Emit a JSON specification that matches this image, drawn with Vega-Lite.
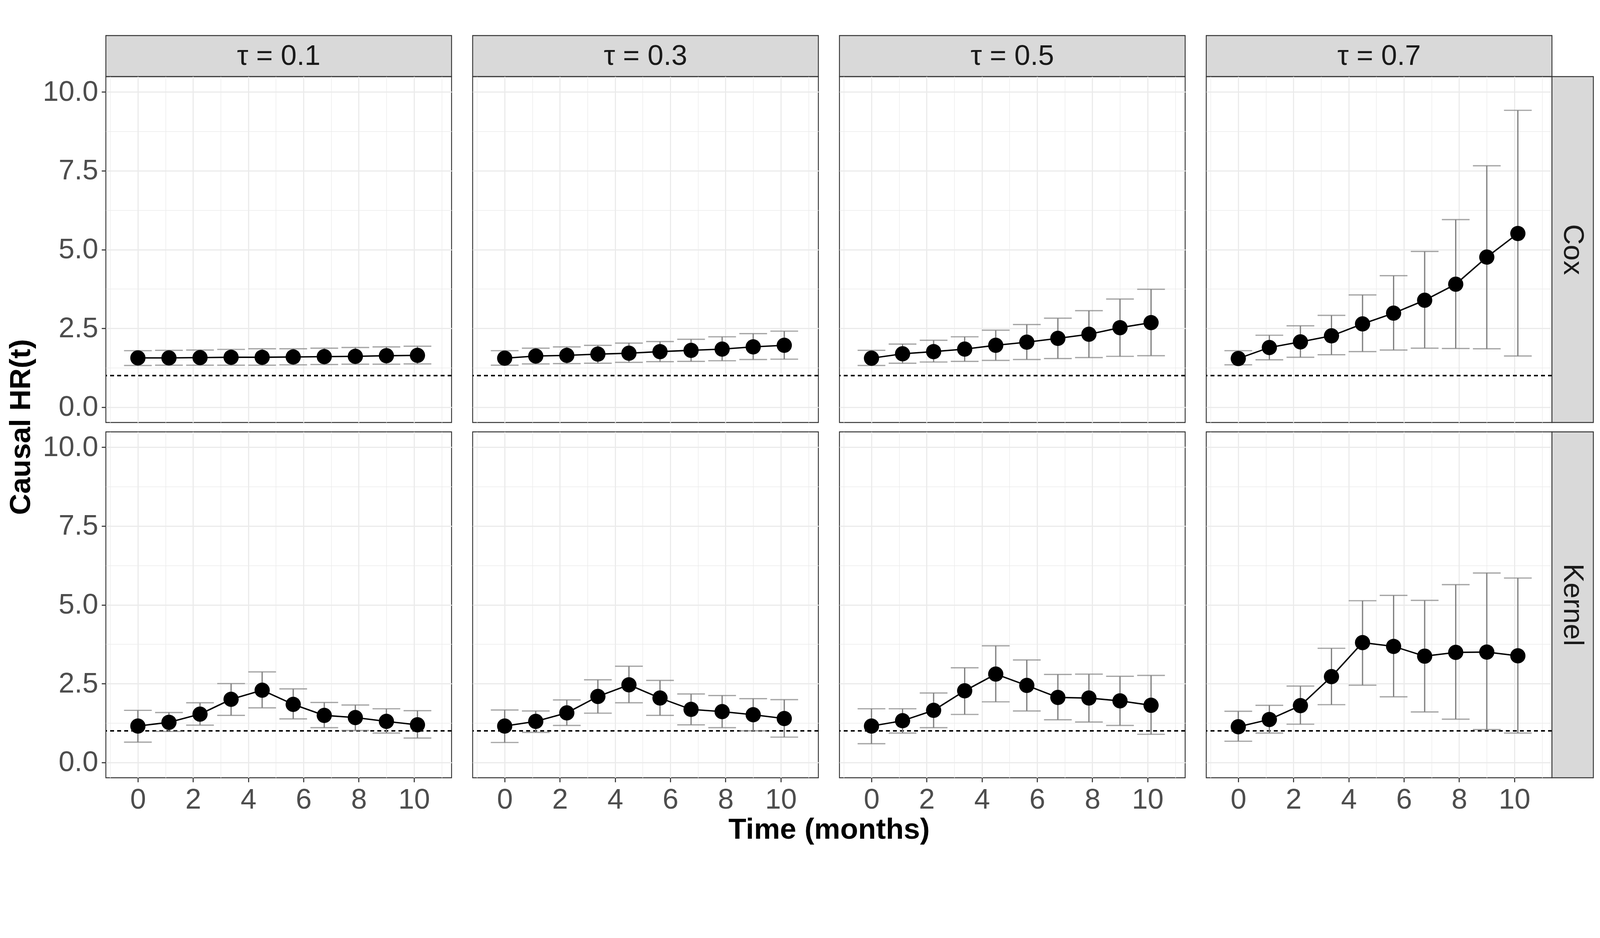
{
  "$schema": "https://vega.github.io/schema/vega-lite/v6.json",
  "description": "Causal HR(t) over time by tau and estimation method",
  "background": "white",
  "padding": {"left": 14, "top": 89, "right": 10, "bottom": 10},
  "datasets": {
    "hr": [
      {"method": "Cox", "tau": 0.1, "t": 0, "hr": 1.56, "lo": 1.32, "hi": 1.79},
      {"method": "Cox", "tau": 0.1, "t": 1.125, "hr": 1.56, "lo": 1.33, "hi": 1.8},
      {"method": "Cox", "tau": 0.1, "t": 2.25, "hr": 1.57, "lo": 1.33, "hi": 1.81},
      {"method": "Cox", "tau": 0.1, "t": 3.375, "hr": 1.58, "lo": 1.33, "hi": 1.83},
      {"method": "Cox", "tau": 0.1, "t": 4.5, "hr": 1.58, "lo": 1.33, "hi": 1.85},
      {"method": "Cox", "tau": 0.1, "t": 5.625, "hr": 1.59, "lo": 1.34, "hi": 1.85},
      {"method": "Cox", "tau": 0.1, "t": 6.75, "hr": 1.6, "lo": 1.35, "hi": 1.87},
      {"method": "Cox", "tau": 0.1, "t": 7.875, "hr": 1.61, "lo": 1.36, "hi": 1.89},
      {"method": "Cox", "tau": 0.1, "t": 9, "hr": 1.63, "lo": 1.36, "hi": 1.91},
      {"method": "Cox", "tau": 0.1, "t": 10.125, "hr": 1.64, "lo": 1.37, "hi": 1.93},
      {"method": "Cox", "tau": 0.3, "t": 0, "hr": 1.55, "lo": 1.33, "hi": 1.79},
      {"method": "Cox", "tau": 0.3, "t": 1.125, "hr": 1.62, "lo": 1.37, "hi": 1.87},
      {"method": "Cox", "tau": 0.3, "t": 2.25, "hr": 1.64, "lo": 1.38, "hi": 1.91},
      {"method": "Cox", "tau": 0.3, "t": 3.375, "hr": 1.68, "lo": 1.39, "hi": 1.96},
      {"method": "Cox", "tau": 0.3, "t": 4.5, "hr": 1.71, "lo": 1.42, "hi": 2.03},
      {"method": "Cox", "tau": 0.3, "t": 5.625, "hr": 1.76, "lo": 1.44, "hi": 2.08},
      {"method": "Cox", "tau": 0.3, "t": 6.75, "hr": 1.8, "lo": 1.45, "hi": 2.15},
      {"method": "Cox", "tau": 0.3, "t": 7.875, "hr": 1.84, "lo": 1.47, "hi": 2.23},
      {"method": "Cox", "tau": 0.3, "t": 9, "hr": 1.91, "lo": 1.51, "hi": 2.33},
      {"method": "Cox", "tau": 0.3, "t": 10.125, "hr": 1.96, "lo": 1.52, "hi": 2.41},
      {"method": "Cox", "tau": 0.5, "t": 0, "hr": 1.55, "lo": 1.32, "hi": 1.8},
      {"method": "Cox", "tau": 0.5, "t": 1.125, "hr": 1.69, "lo": 1.39, "hi": 2.0},
      {"method": "Cox", "tau": 0.5, "t": 2.25, "hr": 1.76, "lo": 1.43, "hi": 2.12},
      {"method": "Cox", "tau": 0.5, "t": 3.375, "hr": 1.84, "lo": 1.45, "hi": 2.23},
      {"method": "Cox", "tau": 0.5, "t": 4.5, "hr": 1.96, "lo": 1.48, "hi": 2.44},
      {"method": "Cox", "tau": 0.5, "t": 5.625, "hr": 2.06, "lo": 1.51, "hi": 2.62},
      {"method": "Cox", "tau": 0.5, "t": 6.75, "hr": 2.18, "lo": 1.54, "hi": 2.82},
      {"method": "Cox", "tau": 0.5, "t": 7.875, "hr": 2.31, "lo": 1.57, "hi": 3.06},
      {"method": "Cox", "tau": 0.5, "t": 9, "hr": 2.52, "lo": 1.61, "hi": 3.43},
      {"method": "Cox", "tau": 0.5, "t": 10.125, "hr": 2.68, "lo": 1.63, "hi": 3.74},
      {"method": "Cox", "tau": 0.7, "t": 0, "hr": 1.54, "lo": 1.34, "hi": 1.79},
      {"method": "Cox", "tau": 0.7, "t": 1.125, "hr": 1.89, "lo": 1.5, "hi": 2.28},
      {"method": "Cox", "tau": 0.7, "t": 2.25, "hr": 2.07, "lo": 1.58, "hi": 2.58},
      {"method": "Cox", "tau": 0.7, "t": 3.375, "hr": 2.26, "lo": 1.66, "hi": 2.91},
      {"method": "Cox", "tau": 0.7, "t": 4.5, "hr": 2.64, "lo": 1.76, "hi": 3.56},
      {"method": "Cox", "tau": 0.7, "t": 5.625, "hr": 2.98, "lo": 1.81, "hi": 4.17},
      {"method": "Cox", "tau": 0.7, "t": 6.75, "hr": 3.39, "lo": 1.87, "hi": 4.94},
      {"method": "Cox", "tau": 0.7, "t": 7.875, "hr": 3.9, "lo": 1.86, "hi": 5.95},
      {"method": "Cox", "tau": 0.7, "t": 9, "hr": 4.76, "lo": 1.85, "hi": 7.66},
      {"method": "Cox", "tau": 0.7, "t": 10.125, "hr": 5.51, "lo": 1.62, "hi": 9.42},
      {"method": "Kernel", "tau": 0.1, "t": 0, "hr": 1.15, "lo": 0.64, "hi": 1.65},
      {"method": "Kernel", "tau": 0.1, "t": 1.125, "hr": 1.27, "lo": 0.98, "hi": 1.58},
      {"method": "Kernel", "tau": 0.1, "t": 2.25, "hr": 1.53, "lo": 1.18, "hi": 1.89},
      {"method": "Kernel", "tau": 0.1, "t": 3.375, "hr": 2.0, "lo": 1.49, "hi": 2.5},
      {"method": "Kernel", "tau": 0.1, "t": 4.5, "hr": 2.29, "lo": 1.73, "hi": 2.87},
      {"method": "Kernel", "tau": 0.1, "t": 5.625, "hr": 1.84, "lo": 1.38, "hi": 2.33},
      {"method": "Kernel", "tau": 0.1, "t": 6.75, "hr": 1.49, "lo": 1.1, "hi": 1.9},
      {"method": "Kernel", "tau": 0.1, "t": 7.875, "hr": 1.42, "lo": 1.01, "hi": 1.82},
      {"method": "Kernel", "tau": 0.1, "t": 9, "hr": 1.3, "lo": 0.93, "hi": 1.7},
      {"method": "Kernel", "tau": 0.1, "t": 10.125, "hr": 1.19, "lo": 0.77, "hi": 1.64},
      {"method": "Kernel", "tau": 0.3, "t": 0, "hr": 1.15, "lo": 0.63, "hi": 1.66},
      {"method": "Kernel", "tau": 0.3, "t": 1.125, "hr": 1.3, "lo": 0.95, "hi": 1.63},
      {"method": "Kernel", "tau": 0.3, "t": 2.25, "hr": 1.57, "lo": 1.17, "hi": 1.98},
      {"method": "Kernel", "tau": 0.3, "t": 3.375, "hr": 2.09, "lo": 1.56, "hi": 2.62},
      {"method": "Kernel", "tau": 0.3, "t": 4.5, "hr": 2.46, "lo": 1.89, "hi": 3.05},
      {"method": "Kernel", "tau": 0.3, "t": 5.625, "hr": 2.04, "lo": 1.49, "hi": 2.6},
      {"method": "Kernel", "tau": 0.3, "t": 6.75, "hr": 1.68, "lo": 1.19, "hi": 2.17},
      {"method": "Kernel", "tau": 0.3, "t": 7.875, "hr": 1.61, "lo": 1.1, "hi": 2.12},
      {"method": "Kernel", "tau": 0.3, "t": 9, "hr": 1.51, "lo": 1.0, "hi": 2.02},
      {"method": "Kernel", "tau": 0.3, "t": 10.125, "hr": 1.39, "lo": 0.8, "hi": 1.99},
      {"method": "Kernel", "tau": 0.5, "t": 0, "hr": 1.15, "lo": 0.59, "hi": 1.7},
      {"method": "Kernel", "tau": 0.5, "t": 1.125, "hr": 1.32, "lo": 0.93, "hi": 1.7},
      {"method": "Kernel", "tau": 0.5, "t": 2.25, "hr": 1.65, "lo": 1.1, "hi": 2.2},
      {"method": "Kernel", "tau": 0.5, "t": 3.375, "hr": 2.27, "lo": 1.52, "hi": 3.0},
      {"method": "Kernel", "tau": 0.5, "t": 4.5, "hr": 2.8, "lo": 1.92, "hi": 3.7},
      {"method": "Kernel", "tau": 0.5, "t": 5.625, "hr": 2.44, "lo": 1.63, "hi": 3.25},
      {"method": "Kernel", "tau": 0.5, "t": 6.75, "hr": 2.06, "lo": 1.35, "hi": 2.79},
      {"method": "Kernel", "tau": 0.5, "t": 7.875, "hr": 2.04, "lo": 1.28, "hi": 2.8},
      {"method": "Kernel", "tau": 0.5, "t": 9, "hr": 1.95, "lo": 1.17, "hi": 2.73},
      {"method": "Kernel", "tau": 0.5, "t": 10.125, "hr": 1.81, "lo": 0.89, "hi": 2.76},
      {"method": "Kernel", "tau": 0.7, "t": 0, "hr": 1.13, "lo": 0.67, "hi": 1.62},
      {"method": "Kernel", "tau": 0.7, "t": 1.125, "hr": 1.36, "lo": 0.93, "hi": 1.81},
      {"method": "Kernel", "tau": 0.7, "t": 2.25, "hr": 1.8, "lo": 1.21, "hi": 2.42},
      {"method": "Kernel", "tau": 0.7, "t": 3.375, "hr": 2.72, "lo": 1.83, "hi": 3.62},
      {"method": "Kernel", "tau": 0.7, "t": 4.5, "hr": 3.8, "lo": 2.45, "hi": 5.13},
      {"method": "Kernel", "tau": 0.7, "t": 5.625, "hr": 3.68, "lo": 2.08, "hi": 5.3},
      {"method": "Kernel", "tau": 0.7, "t": 6.75, "hr": 3.37, "lo": 1.6, "hi": 5.14},
      {"method": "Kernel", "tau": 0.7, "t": 7.875, "hr": 3.49, "lo": 1.37, "hi": 5.64},
      {"method": "Kernel", "tau": 0.7, "t": 9, "hr": 3.5, "lo": 1.04, "hi": 6.01},
      {"method": "Kernel", "tau": 0.7, "t": 10.125, "hr": 3.38, "lo": 0.93, "hi": 5.85}
    ],
    "cols": [
      {"tau": 0.1, "label": "τ = 0.1"},
      {"tau": 0.3, "label": "τ = 0.3"},
      {"tau": 0.5, "label": "τ = 0.5"},
      {"tau": 0.7, "label": "τ = 0.7"}
    ],
    "rows": [
      {"method": "Cox"},
      {"method": "Kernel"}
    ],
    "none": []
  },
  "data": {"name": "hr"},
  "columns": 8,
  "align": "each",
  "bounds": "flush",
  "spacing": 0,
  "concat": [
    {"width": 885, "height": 105, "data": {"name": "cols"}, "transform": [{"filter": "datum.tau === 0.1"}], "view": {"fill": "#D9D9D9", "stroke": "#333333", "strokeWidth": 2.3}, "mark": {"type": "text", "fontSize": 73, "color": "#1A1A1A", "baseline": "middle"}, "encoding": {"text": {"field": "label"}}},
    {"width": 54, "height": 1, "data": {"name": "none"}, "view": {"stroke": null}, "mark": "point"},
    {"width": 885, "height": 105, "data": {"name": "cols"}, "transform": [{"filter": "datum.tau === 0.3"}], "view": {"fill": "#D9D9D9", "stroke": "#333333", "strokeWidth": 2.3}, "mark": {"type": "text", "fontSize": 73, "color": "#1A1A1A", "baseline": "middle"}, "encoding": {"text": {"field": "label"}}},
    {"width": 54, "height": 1, "data": {"name": "none"}, "view": {"stroke": null}, "mark": "point"},
    {"width": 885, "height": 105, "data": {"name": "cols"}, "transform": [{"filter": "datum.tau === 0.5"}], "view": {"fill": "#D9D9D9", "stroke": "#333333", "strokeWidth": 2.3}, "mark": {"type": "text", "fontSize": 73, "color": "#1A1A1A", "baseline": "middle"}, "encoding": {"text": {"field": "label"}}},
    {"width": 54, "height": 1, "data": {"name": "none"}, "view": {"stroke": null}, "mark": "point"},
    {"width": 885, "height": 105, "data": {"name": "cols"}, "transform": [{"filter": "datum.tau === 0.7"}], "view": {"fill": "#D9D9D9", "stroke": "#333333", "strokeWidth": 2.3}, "mark": {"type": "text", "fontSize": 73, "color": "#1A1A1A", "baseline": "middle"}, "encoding": {"text": {"field": "label"}}},
    {"width": 1, "height": 1, "data": {"name": "none"}, "view": {"stroke": null}, "mark": "point"},

    {
      "width": 885, "height": 885,
      "transform": [{"filter": "datum.method === 'Cox' && datum.tau === 0.1"}],
      "encoding": {"y": {"field": "hr", "type": "quantitative", "scale": {"domain": [-0.49, 10.49], "nice": false, "zero": false},
        "axis": {"values": [0, 1.25, 2.5, 3.75, 5, 6.25, 7.5, 8.75, 10], "gridWidth": {"condition": {"test": "datum.value % 2.5 === 0", "value": 2.9}, "value": 1.45}, "tickOpacity": {"condition": {"test": "datum.value % 2.5 === 0", "value": 1}, "value": 0}, "labelExpr": "datum.value % 2.5 === 0 ? format(datum.value, '.1f') : ''", "title": "Causal HR(t)", "titleX": -195, "titleY": 896, "titleBaseline": "alphabetic", "titleAngle": -90}}},
      "layer": [
        {"mark": {"type": "rule", "color": "black", "strokeWidth": 2.5, "strokeDash": [10, 8]}, "encoding": {"y": {"datum": 1}}},
        {"mark": {"type": "rule", "color": "#7F7F7F", "strokeWidth": 3.2}, "encoding": {"x": {"field": "t", "type": "quantitative", "scale": {"domain": [-1.16, 11.36], "nice": false, "zero": false}}, "y": {"field": "lo", "type": "quantitative"}, "y2": {"field": "hi"}}},
        {"mark": {"type": "tick", "orient": "horizontal", "color": "#7F7F7F", "size": 71, "thickness": 3.2}, "encoding": {"x": {"field": "t", "type": "quantitative", "scale": {"domain": [-1.16, 11.36], "nice": false, "zero": false}}, "y": {"field": "lo", "type": "quantitative"}}},
        {"mark": {"type": "tick", "orient": "horizontal", "color": "#7F7F7F", "size": 71, "thickness": 3.2}, "encoding": {"x": {"field": "t", "type": "quantitative", "scale": {"domain": [-1.16, 11.36], "nice": false, "zero": false}}, "y": {"field": "hi", "type": "quantitative"}}},
        {"mark": {"type": "line", "color": "black", "strokeWidth": 3.6}, "encoding": {"x": {"field": "t", "type": "quantitative", "scale": {"domain": [-1.16, 11.36], "nice": false, "zero": false},
          "axis": {"values": [-1, 0, 1, 2, 3, 4, 5, 6, 7, 8, 9, 10, 11], "gridWidth": {"condition": {"test": "datum.value % 2 === 0", "value": 2.9}, "value": 1.45}, "labels": false, "ticks": false, "title": null}}}},
        {"mark": {"type": "circle", "color": "black", "size": 1520, "opacity": 1}, "encoding": {"x": {"field": "t", "type": "quantitative", "scale": {"domain": [-1.16, 11.36], "nice": false, "zero": false}}}}
      ]
    },
    {"width": 54, "height": 1, "data": {"name": "none"}, "view": {"stroke": null}, "mark": "point"},
    {
      "width": 885, "height": 885,
      "transform": [{"filter": "datum.method === 'Cox' && datum.tau === 0.3"}],
      "encoding": {"y": {"field": "hr", "type": "quantitative", "scale": {"domain": [-0.49, 10.49], "nice": false, "zero": false},
        "axis": {"values": [0, 1.25, 2.5, 3.75, 5, 6.25, 7.5, 8.75, 10], "gridWidth": {"condition": {"test": "datum.value % 2.5 === 0", "value": 2.9}, "value": 1.45}, "labels": false, "ticks": false, "title": null}}},
      "layer": [
        {"mark": {"type": "rule", "color": "black", "strokeWidth": 2.5, "strokeDash": [10, 8]}, "encoding": {"y": {"datum": 1}}},
        {"mark": {"type": "rule", "color": "#7F7F7F", "strokeWidth": 3.2}, "encoding": {"x": {"field": "t", "type": "quantitative", "scale": {"domain": [-1.16, 11.36], "nice": false, "zero": false}}, "y": {"field": "lo", "type": "quantitative"}, "y2": {"field": "hi"}}},
        {"mark": {"type": "tick", "orient": "horizontal", "color": "#7F7F7F", "size": 71, "thickness": 3.2}, "encoding": {"x": {"field": "t", "type": "quantitative", "scale": {"domain": [-1.16, 11.36], "nice": false, "zero": false}}, "y": {"field": "lo", "type": "quantitative"}}},
        {"mark": {"type": "tick", "orient": "horizontal", "color": "#7F7F7F", "size": 71, "thickness": 3.2}, "encoding": {"x": {"field": "t", "type": "quantitative", "scale": {"domain": [-1.16, 11.36], "nice": false, "zero": false}}, "y": {"field": "hi", "type": "quantitative"}}},
        {"mark": {"type": "line", "color": "black", "strokeWidth": 3.6}, "encoding": {"x": {"field": "t", "type": "quantitative", "scale": {"domain": [-1.16, 11.36], "nice": false, "zero": false},
          "axis": {"values": [-1, 0, 1, 2, 3, 4, 5, 6, 7, 8, 9, 10, 11], "gridWidth": {"condition": {"test": "datum.value % 2 === 0", "value": 2.9}, "value": 1.45}, "labels": false, "ticks": false, "title": null}}}},
        {"mark": {"type": "circle", "color": "black", "size": 1520, "opacity": 1}, "encoding": {"x": {"field": "t", "type": "quantitative", "scale": {"domain": [-1.16, 11.36], "nice": false, "zero": false}}}}
      ]
    },
    {"width": 54, "height": 1, "data": {"name": "none"}, "view": {"stroke": null}, "mark": "point"},
    {
      "width": 885, "height": 885,
      "transform": [{"filter": "datum.method === 'Cox' && datum.tau === 0.5"}],
      "encoding": {"y": {"field": "hr", "type": "quantitative", "scale": {"domain": [-0.49, 10.49], "nice": false, "zero": false},
        "axis": {"values": [0, 1.25, 2.5, 3.75, 5, 6.25, 7.5, 8.75, 10], "gridWidth": {"condition": {"test": "datum.value % 2.5 === 0", "value": 2.9}, "value": 1.45}, "labels": false, "ticks": false, "title": null}}},
      "layer": [
        {"mark": {"type": "rule", "color": "black", "strokeWidth": 2.5, "strokeDash": [10, 8]}, "encoding": {"y": {"datum": 1}}},
        {"mark": {"type": "rule", "color": "#7F7F7F", "strokeWidth": 3.2}, "encoding": {"x": {"field": "t", "type": "quantitative", "scale": {"domain": [-1.16, 11.36], "nice": false, "zero": false}}, "y": {"field": "lo", "type": "quantitative"}, "y2": {"field": "hi"}}},
        {"mark": {"type": "tick", "orient": "horizontal", "color": "#7F7F7F", "size": 71, "thickness": 3.2}, "encoding": {"x": {"field": "t", "type": "quantitative", "scale": {"domain": [-1.16, 11.36], "nice": false, "zero": false}}, "y": {"field": "lo", "type": "quantitative"}}},
        {"mark": {"type": "tick", "orient": "horizontal", "color": "#7F7F7F", "size": 71, "thickness": 3.2}, "encoding": {"x": {"field": "t", "type": "quantitative", "scale": {"domain": [-1.16, 11.36], "nice": false, "zero": false}}, "y": {"field": "hi", "type": "quantitative"}}},
        {"mark": {"type": "line", "color": "black", "strokeWidth": 3.6}, "encoding": {"x": {"field": "t", "type": "quantitative", "scale": {"domain": [-1.16, 11.36], "nice": false, "zero": false},
          "axis": {"values": [-1, 0, 1, 2, 3, 4, 5, 6, 7, 8, 9, 10, 11], "gridWidth": {"condition": {"test": "datum.value % 2 === 0", "value": 2.9}, "value": 1.45}, "labels": false, "ticks": false, "title": null}}}},
        {"mark": {"type": "circle", "color": "black", "size": 1520, "opacity": 1}, "encoding": {"x": {"field": "t", "type": "quantitative", "scale": {"domain": [-1.16, 11.36], "nice": false, "zero": false}}}}
      ]
    },
    {"width": 54, "height": 1, "data": {"name": "none"}, "view": {"stroke": null}, "mark": "point"},
    {
      "width": 885, "height": 885,
      "transform": [{"filter": "datum.method === 'Cox' && datum.tau === 0.7"}],
      "encoding": {"y": {"field": "hr", "type": "quantitative", "scale": {"domain": [-0.49, 10.49], "nice": false, "zero": false},
        "axis": {"values": [0, 1.25, 2.5, 3.75, 5, 6.25, 7.5, 8.75, 10], "gridWidth": {"condition": {"test": "datum.value % 2.5 === 0", "value": 2.9}, "value": 1.45}, "labels": false, "ticks": false, "title": null}}},
      "layer": [
        {"mark": {"type": "rule", "color": "black", "strokeWidth": 2.5, "strokeDash": [10, 8]}, "encoding": {"y": {"datum": 1}}},
        {"mark": {"type": "rule", "color": "#7F7F7F", "strokeWidth": 3.2}, "encoding": {"x": {"field": "t", "type": "quantitative", "scale": {"domain": [-1.16, 11.36], "nice": false, "zero": false}}, "y": {"field": "lo", "type": "quantitative"}, "y2": {"field": "hi"}}},
        {"mark": {"type": "tick", "orient": "horizontal", "color": "#7F7F7F", "size": 71, "thickness": 3.2}, "encoding": {"x": {"field": "t", "type": "quantitative", "scale": {"domain": [-1.16, 11.36], "nice": false, "zero": false}}, "y": {"field": "lo", "type": "quantitative"}}},
        {"mark": {"type": "tick", "orient": "horizontal", "color": "#7F7F7F", "size": 71, "thickness": 3.2}, "encoding": {"x": {"field": "t", "type": "quantitative", "scale": {"domain": [-1.16, 11.36], "nice": false, "zero": false}}, "y": {"field": "hi", "type": "quantitative"}}},
        {"mark": {"type": "line", "color": "black", "strokeWidth": 3.6}, "encoding": {"x": {"field": "t", "type": "quantitative", "scale": {"domain": [-1.16, 11.36], "nice": false, "zero": false},
          "axis": {"values": [-1, 0, 1, 2, 3, 4, 5, 6, 7, 8, 9, 10, 11], "gridWidth": {"condition": {"test": "datum.value % 2 === 0", "value": 2.9}, "value": 1.45}, "labels": false, "ticks": false, "title": null}}}},
        {"mark": {"type": "circle", "color": "black", "size": 1520, "opacity": 1}, "encoding": {"x": {"field": "t", "type": "quantitative", "scale": {"domain": [-1.16, 11.36], "nice": false, "zero": false}}}}
      ]
    },
    {"width": 106, "height": 885, "data": {"name": "rows"}, "transform": [{"filter": "datum.method === 'Cox'"}], "view": {"fill": "#D9D9D9", "stroke": "#333333", "strokeWidth": 2.3}, "mark": {"type": "text", "fontSize": 73, "color": "#1A1A1A", "baseline": "middle", "angle": 90}, "encoding": {"text": {"field": "method"}}},

    {"width": 1, "height": 24, "data": {"name": "none"}, "view": {"stroke": null}, "mark": "point"},
    {"width": 1, "height": 1, "data": {"name": "none"}, "view": {"stroke": null}, "mark": "point"},
    {"width": 1, "height": 1, "data": {"name": "none"}, "view": {"stroke": null}, "mark": "point"},
    {"width": 1, "height": 1, "data": {"name": "none"}, "view": {"stroke": null}, "mark": "point"},
    {"width": 1, "height": 1, "data": {"name": "none"}, "view": {"stroke": null}, "mark": "point"},
    {"width": 1, "height": 1, "data": {"name": "none"}, "view": {"stroke": null}, "mark": "point"},
    {"width": 1, "height": 1, "data": {"name": "none"}, "view": {"stroke": null}, "mark": "point"},
    {"width": 1, "height": 1, "data": {"name": "none"}, "view": {"stroke": null}, "mark": "point"},

    {
      "width": 885, "height": 885,
      "transform": [{"filter": "datum.method === 'Kernel' && datum.tau === 0.1"}],
      "encoding": {"y": {"field": "hr", "type": "quantitative", "scale": {"domain": [-0.49, 10.49], "nice": false, "zero": false},
        "axis": {"values": [0, 1.25, 2.5, 3.75, 5, 6.25, 7.5, 8.75, 10], "gridWidth": {"condition": {"test": "datum.value % 2.5 === 0", "value": 2.9}, "value": 1.45}, "tickOpacity": {"condition": {"test": "datum.value % 2.5 === 0", "value": 1}, "value": 0}, "labelExpr": "datum.value % 2.5 === 0 ? format(datum.value, '.1f') : ''", "title": null}}},
      "layer": [
        {"mark": {"type": "rule", "color": "black", "strokeWidth": 2.5, "strokeDash": [10, 8]}, "encoding": {"y": {"datum": 1}}},
        {"mark": {"type": "rule", "color": "#7F7F7F", "strokeWidth": 3.2}, "encoding": {"x": {"field": "t", "type": "quantitative", "scale": {"domain": [-1.16, 11.36], "nice": false, "zero": false}}, "y": {"field": "lo", "type": "quantitative"}, "y2": {"field": "hi"}}},
        {"mark": {"type": "tick", "orient": "horizontal", "color": "#7F7F7F", "size": 71, "thickness": 3.2}, "encoding": {"x": {"field": "t", "type": "quantitative", "scale": {"domain": [-1.16, 11.36], "nice": false, "zero": false}}, "y": {"field": "lo", "type": "quantitative"}}},
        {"mark": {"type": "tick", "orient": "horizontal", "color": "#7F7F7F", "size": 71, "thickness": 3.2}, "encoding": {"x": {"field": "t", "type": "quantitative", "scale": {"domain": [-1.16, 11.36], "nice": false, "zero": false}}, "y": {"field": "hi", "type": "quantitative"}}},
        {"mark": {"type": "line", "color": "black", "strokeWidth": 3.6}, "encoding": {"x": {"field": "t", "type": "quantitative", "scale": {"domain": [-1.16, 11.36], "nice": false, "zero": false},
          "axis": {"values": [-1, 0, 1, 2, 3, 4, 5, 6, 7, 8, 9, 10, 11], "gridWidth": {"condition": {"test": "datum.value % 2 === 0", "value": 2.9}, "value": 1.45}, "tickOpacity": {"condition": {"test": "datum.value % 2 === 0", "value": 1}, "value": 0}, "labelExpr": "datum.value % 2 === 0 ? format(datum.value, 'd') : ''", "title": "Time (months)", "titleX": 1851, "titleY": 155, "titleBaseline": "alphabetic"}}}},
        {"mark": {"type": "circle", "color": "black", "size": 1520, "opacity": 1}, "encoding": {"x": {"field": "t", "type": "quantitative", "scale": {"domain": [-1.16, 11.36], "nice": false, "zero": false}}}}
      ]
    },
    {"width": 54, "height": 1, "data": {"name": "none"}, "view": {"stroke": null}, "mark": "point"},
    {
      "width": 885, "height": 885,
      "transform": [{"filter": "datum.method === 'Kernel' && datum.tau === 0.3"}],
      "encoding": {"y": {"field": "hr", "type": "quantitative", "scale": {"domain": [-0.49, 10.49], "nice": false, "zero": false},
        "axis": {"values": [0, 1.25, 2.5, 3.75, 5, 6.25, 7.5, 8.75, 10], "gridWidth": {"condition": {"test": "datum.value % 2.5 === 0", "value": 2.9}, "value": 1.45}, "labels": false, "ticks": false, "title": null}}},
      "layer": [
        {"mark": {"type": "rule", "color": "black", "strokeWidth": 2.5, "strokeDash": [10, 8]}, "encoding": {"y": {"datum": 1}}},
        {"mark": {"type": "rule", "color": "#7F7F7F", "strokeWidth": 3.2}, "encoding": {"x": {"field": "t", "type": "quantitative", "scale": {"domain": [-1.16, 11.36], "nice": false, "zero": false}}, "y": {"field": "lo", "type": "quantitative"}, "y2": {"field": "hi"}}},
        {"mark": {"type": "tick", "orient": "horizontal", "color": "#7F7F7F", "size": 71, "thickness": 3.2}, "encoding": {"x": {"field": "t", "type": "quantitative", "scale": {"domain": [-1.16, 11.36], "nice": false, "zero": false}}, "y": {"field": "lo", "type": "quantitative"}}},
        {"mark": {"type": "tick", "orient": "horizontal", "color": "#7F7F7F", "size": 71, "thickness": 3.2}, "encoding": {"x": {"field": "t", "type": "quantitative", "scale": {"domain": [-1.16, 11.36], "nice": false, "zero": false}}, "y": {"field": "hi", "type": "quantitative"}}},
        {"mark": {"type": "line", "color": "black", "strokeWidth": 3.6}, "encoding": {"x": {"field": "t", "type": "quantitative", "scale": {"domain": [-1.16, 11.36], "nice": false, "zero": false},
          "axis": {"values": [-1, 0, 1, 2, 3, 4, 5, 6, 7, 8, 9, 10, 11], "gridWidth": {"condition": {"test": "datum.value % 2 === 0", "value": 2.9}, "value": 1.45}, "tickOpacity": {"condition": {"test": "datum.value % 2 === 0", "value": 1}, "value": 0}, "labelExpr": "datum.value % 2 === 0 ? format(datum.value, 'd') : ''", "title": null}}}},
        {"mark": {"type": "circle", "color": "black", "size": 1520, "opacity": 1}, "encoding": {"x": {"field": "t", "type": "quantitative", "scale": {"domain": [-1.16, 11.36], "nice": false, "zero": false}}}}
      ]
    },
    {"width": 54, "height": 1, "data": {"name": "none"}, "view": {"stroke": null}, "mark": "point"},
    {
      "width": 885, "height": 885,
      "transform": [{"filter": "datum.method === 'Kernel' && datum.tau === 0.5"}],
      "encoding": {"y": {"field": "hr", "type": "quantitative", "scale": {"domain": [-0.49, 10.49], "nice": false, "zero": false},
        "axis": {"values": [0, 1.25, 2.5, 3.75, 5, 6.25, 7.5, 8.75, 10], "gridWidth": {"condition": {"test": "datum.value % 2.5 === 0", "value": 2.9}, "value": 1.45}, "labels": false, "ticks": false, "title": null}}},
      "layer": [
        {"mark": {"type": "rule", "color": "black", "strokeWidth": 2.5, "strokeDash": [10, 8]}, "encoding": {"y": {"datum": 1}}},
        {"mark": {"type": "rule", "color": "#7F7F7F", "strokeWidth": 3.2}, "encoding": {"x": {"field": "t", "type": "quantitative", "scale": {"domain": [-1.16, 11.36], "nice": false, "zero": false}}, "y": {"field": "lo", "type": "quantitative"}, "y2": {"field": "hi"}}},
        {"mark": {"type": "tick", "orient": "horizontal", "color": "#7F7F7F", "size": 71, "thickness": 3.2}, "encoding": {"x": {"field": "t", "type": "quantitative", "scale": {"domain": [-1.16, 11.36], "nice": false, "zero": false}}, "y": {"field": "lo", "type": "quantitative"}}},
        {"mark": {"type": "tick", "orient": "horizontal", "color": "#7F7F7F", "size": 71, "thickness": 3.2}, "encoding": {"x": {"field": "t", "type": "quantitative", "scale": {"domain": [-1.16, 11.36], "nice": false, "zero": false}}, "y": {"field": "hi", "type": "quantitative"}}},
        {"mark": {"type": "line", "color": "black", "strokeWidth": 3.6}, "encoding": {"x": {"field": "t", "type": "quantitative", "scale": {"domain": [-1.16, 11.36], "nice": false, "zero": false},
          "axis": {"values": [-1, 0, 1, 2, 3, 4, 5, 6, 7, 8, 9, 10, 11], "gridWidth": {"condition": {"test": "datum.value % 2 === 0", "value": 2.9}, "value": 1.45}, "tickOpacity": {"condition": {"test": "datum.value % 2 === 0", "value": 1}, "value": 0}, "labelExpr": "datum.value % 2 === 0 ? format(datum.value, 'd') : ''", "title": null}}}},
        {"mark": {"type": "circle", "color": "black", "size": 1520, "opacity": 1}, "encoding": {"x": {"field": "t", "type": "quantitative", "scale": {"domain": [-1.16, 11.36], "nice": false, "zero": false}}}}
      ]
    },
    {"width": 54, "height": 1, "data": {"name": "none"}, "view": {"stroke": null}, "mark": "point"},
    {
      "width": 885, "height": 885,
      "transform": [{"filter": "datum.method === 'Kernel' && datum.tau === 0.7"}],
      "encoding": {"y": {"field": "hr", "type": "quantitative", "scale": {"domain": [-0.49, 10.49], "nice": false, "zero": false},
        "axis": {"values": [0, 1.25, 2.5, 3.75, 5, 6.25, 7.5, 8.75, 10], "gridWidth": {"condition": {"test": "datum.value % 2.5 === 0", "value": 2.9}, "value": 1.45}, "labels": false, "ticks": false, "title": null}}},
      "layer": [
        {"mark": {"type": "rule", "color": "black", "strokeWidth": 2.5, "strokeDash": [10, 8]}, "encoding": {"y": {"datum": 1}}},
        {"mark": {"type": "rule", "color": "#7F7F7F", "strokeWidth": 3.2}, "encoding": {"x": {"field": "t", "type": "quantitative", "scale": {"domain": [-1.16, 11.36], "nice": false, "zero": false}}, "y": {"field": "lo", "type": "quantitative"}, "y2": {"field": "hi"}}},
        {"mark": {"type": "tick", "orient": "horizontal", "color": "#7F7F7F", "size": 71, "thickness": 3.2}, "encoding": {"x": {"field": "t", "type": "quantitative", "scale": {"domain": [-1.16, 11.36], "nice": false, "zero": false}}, "y": {"field": "lo", "type": "quantitative"}}},
        {"mark": {"type": "tick", "orient": "horizontal", "color": "#7F7F7F", "size": 71, "thickness": 3.2}, "encoding": {"x": {"field": "t", "type": "quantitative", "scale": {"domain": [-1.16, 11.36], "nice": false, "zero": false}}, "y": {"field": "hi", "type": "quantitative"}}},
        {"mark": {"type": "line", "color": "black", "strokeWidth": 3.6}, "encoding": {"x": {"field": "t", "type": "quantitative", "scale": {"domain": [-1.16, 11.36], "nice": false, "zero": false},
          "axis": {"values": [-1, 0, 1, 2, 3, 4, 5, 6, 7, 8, 9, 10, 11], "gridWidth": {"condition": {"test": "datum.value % 2 === 0", "value": 2.9}, "value": 1.45}, "tickOpacity": {"condition": {"test": "datum.value % 2 === 0", "value": 1}, "value": 0}, "labelExpr": "datum.value % 2 === 0 ? format(datum.value, 'd') : ''", "title": null}}}},
        {"mark": {"type": "circle", "color": "black", "size": 1520, "opacity": 1}, "encoding": {"x": {"field": "t", "type": "quantitative", "scale": {"domain": [-1.16, 11.36], "nice": false, "zero": false}}}}
      ]
    },
    {"width": 106, "height": 885, "data": {"name": "rows"}, "transform": [{"filter": "datum.method === 'Kernel'"}], "view": {"fill": "#D9D9D9", "stroke": "#333333", "strokeWidth": 2.3}, "mark": {"type": "text", "fontSize": 73, "color": "#1A1A1A", "baseline": "middle", "angle": 90}, "encoding": {"text": {"field": "method"}}}
  ],
  "config": {
    "font": "Liberation Sans",
    "view": {"stroke": "#333333", "strokeWidth": 2.3},
    "axis": {
      "grid": true,
      "gridColor": "#EBEBEB",
      "domain": false,
      "tickColor": "#333333",
      "tickWidth": 2.7,
      "tickSize": 11,
      "labelFont": "Liberation Sans",
      "labelFontSize": 73,
      "labelColor": "#4D4D4D",
      "labelPadding": 9,
      "labelOverlap": false,
      "labelFlush": false,
      "titleFont": "Liberation Sans",
      "titleFontSize": 75,
      "titleFontWeight": "bold",
      "titleColor": "black"
    }
  }
}
